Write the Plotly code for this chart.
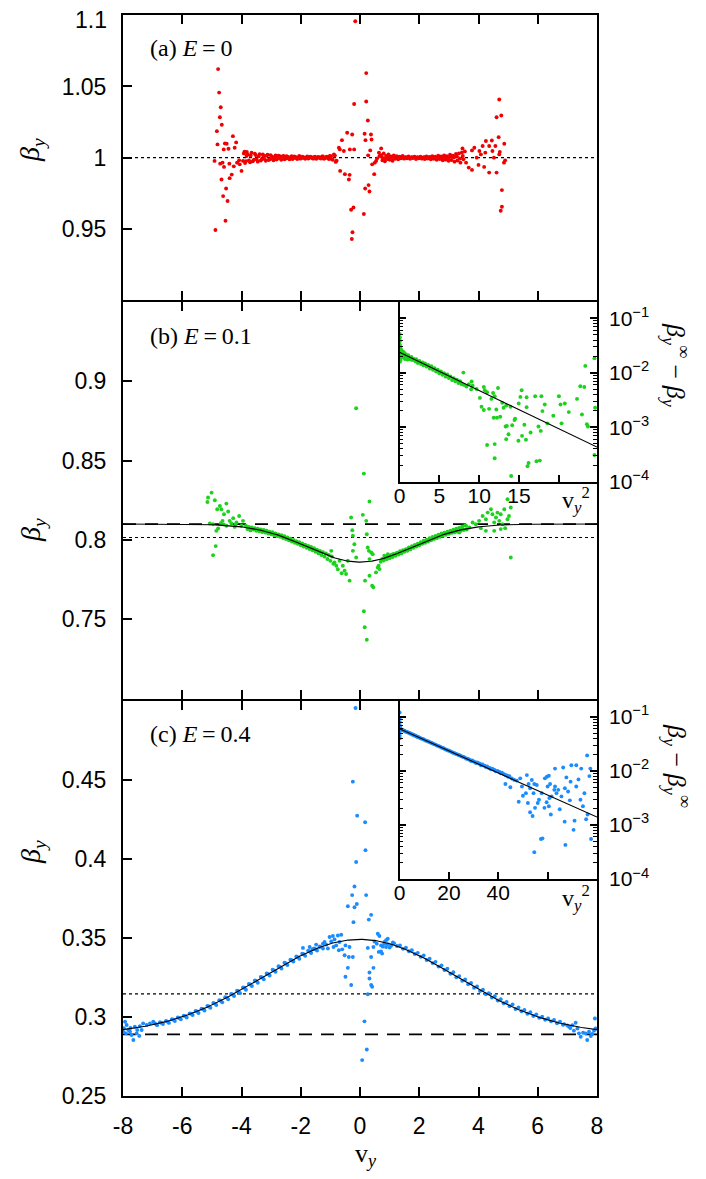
import numpy as np
import plotly.graph_objects as go

W, H = 706, 1179
PAGE_OFFSET = 8  # default body margin of the html page
SERIF = "Liberation Serif, Times New Roman, serif"
SANS = "Liberation Sans, Arial, Helvetica, sans-serif"
RED, GREEN, BLUE = "#f00000", "#1cd21c", "#1a8cff"

# reference levels and fit parameters: beta = inf -/+ amp * exp(-rate * v^2)
A_DOT = 1.0
B_DOT, B_INF, B_AMP, B_RATE = 0.8015, 0.810, 0.024, 0.162
C_DOT, C_INF, C_AMP, C_RATE = 0.3145, 0.289, 0.060, 0.047

X_TICKS = [-8, -6, -4, -2, 0, 2, 4, 6, 8]
X_TICK_TEXT = ["-8", "-6", "-4", "-2", "0", "2", "4", "6", "8"]

# ---- panel (a), E = 0 : (v_y, beta_y)
A_CLUSTERS = [
    (-4.79, 1.0622), (-4.755, 1.0457), (-4.70, 1.0354), (-4.73, 1.0284), (-4.665, 1.0231),
    (-4.83, 1.0186), (-4.81, 1.0093), (-4.88, 0.9492), (-4.54, 0.9557), (-4.47, 0.9695),
    (-4.62, 0.9730), (-4.52, 0.9783), (-4.675, 0.9846), (-4.40, 0.9856), (-4.33, 0.9881),
    (-4.26, 0.9939), (-4.60, 1.0058), (-4.44, 1.0063), (-4.29, 1.0151), (-4.18, 1.0107),
    (-4.50, 1.0098), (-4.23, 1.0070), (-4.56, 1.0100), (-4.91, 0.9977), (-4.72, 0.9958),
    (-4.64, 0.9965), (-4.41, 0.9958), (-4.59, 0.9935), (-4.15, 0.9965), (-4.06, 0.9953),
    (-4.00, 0.9907), (-3.95, 0.9977), (-4.08, 0.9981), (-3.90, 1.0042), (-3.83, 1.0012),
    (-0.713, 1.0070), (-0.61, 1.0123), (-0.68, 1.0058), (-0.545, 1.0047), (-0.433, 1.0175),
    (-0.264, 1.0163), (-0.197, 1.0377), (-0.343, 1.0058), (-0.197, 1.0058), (-0.51, 0.9884),
    (-0.67, 0.9907), (-0.35, 0.9879), (-0.375, 0.9846), (-0.30, 0.9634), (-0.22, 0.9650),
    (-0.253, 0.9476), (-0.276, 0.9429), (-0.16, 1.0958), (0.21, 1.0594), (0.21, 1.0394),
    (0.265, 1.0261), (0.155, 1.0168), (0.37, 1.0163), (0.185, 1.0123), (0.39, 1.0128),
    (0.345, 1.0051), (0.275, 1.0016), (0.13, 0.9604), (0.175, 0.9783), (0.29, 0.9807),
    (0.32, 0.9762), (0.48, 0.9884), (0.41, 0.9953), (0.50, 0.9965), (0.545, 0.9977),
    (0.58, 0.9995), (0.66, 1.0012), (0.715, 1.0065), (0.64, 1.0035),
    (4.70, 1.0408), (4.61, 1.0284), (4.77, 1.0296), (4.68, 1.0144), (4.45, 1.0121),
    (4.57, 1.0082), (4.87, 1.0098), (4.36, 1.0082), (4.25, 1.0117), (4.14, 1.0082),
    (4.03, 1.0047), (3.86, 1.0070), (3.78, 1.0051), (3.94, 1.0000), (4.08, 1.0023),
    (4.23, 1.0035), (4.47, 1.0047), (4.70, 1.0023), (4.52, 1.0000), (4.61, 0.9895),
    (4.36, 0.9895), (4.19, 0.9935), (4.00, 0.9949), (3.78, 0.9914), (3.67, 0.9930),
    (4.86, 0.9965), (4.79, 0.9772), (4.79, 0.9655), (4.75, 0.9627), (4.72, 1.0040),
    (4.90, 0.9981), (3.46, 1.0065), (3.58, 0.9965),
]
A_BAND = [
    (-3.92, 1.0030), (-3.85, 0.9975), (-3.79, 1.0022), (-3.71, 0.9968), (-3.66, 1.0035),
    (-3.58, 0.9985), (-3.52, 1.0018), (-3.45, 0.9972), (-3.39, 1.0025), (-3.31, 0.9990),
    (-3.26, 1.0012), (-3.18, 0.9978), (-3.12, 1.0020), (-3.05, 0.9988), (-2.98, 1.0008),
    (-2.92, 0.9982), (-2.85, 1.0015), (-2.79, 0.9992), (-2.71, 1.0010), (-2.66, 0.9985),
    (-2.58, 1.0012), (-2.51, 0.9994), (-2.45, 1.0006), (-2.38, 0.9988), (-2.31, 1.0010),
    (-2.25, 0.9995), (-2.18, 1.0005), (-2.12, 0.9990), (-2.05, 1.0012), (-1.98, 0.9996),
    (-1.91, 1.0004), (-1.85, 0.9992), (-1.78, 1.0008), (-1.72, 0.9997), (-1.65, 1.0005),
    (-1.58, 0.9993), (-1.52, 1.0007), (-1.45, 0.9996), (-1.38, 1.0004), (-1.32, 0.9994),
    (-1.25, 1.0008), (-1.18, 0.9995), (-1.12, 1.0006), (-1.05, 0.9990), (-0.98, 1.0010),
    (-0.92, 0.9985), (-0.85, 1.0015), (-0.79, 0.9978),
    (-3.88, 0.9962), (-3.82, 1.0040), (-3.75, 0.9980), (-3.69, 1.0015), (-3.62, 0.9975),
    (-3.55, 1.0028), (-3.49, 0.9988), (-3.42, 1.0010), (-3.35, 0.9980), (-3.28, 1.0022),
    (-3.22, 0.9990), (-3.15, 1.0014), (-3.08, 0.9983), (-3.02, 1.0018), (-2.95, 0.9992),
    (-2.88, 1.0005), (-2.82, 0.9987), (-2.75, 1.0014), (-2.68, 0.9996), (-2.62, 1.0008),
    (-2.55, 0.9989), (-2.48, 1.0011), (-2.42, 0.9996), (-2.35, 1.0004), (-2.28, 0.9991),
    (-2.22, 1.0009), (-2.15, 0.9997), (-2.08, 1.0003), (-2.02, 0.9993), (-1.95, 1.0006),
    (-1.88, 0.9998), (-1.82, 1.0002), (-1.75, 0.9994), (-1.68, 1.0006), (-1.62, 0.9998),
    (-1.55, 1.0003), (-1.48, 0.9992), (-1.42, 1.0005), (-1.35, 0.9997), (-1.28, 1.0009),
    (-1.22, 0.9992), (-1.15, 1.0004), (-1.08, 0.9996), (-1.02, 1.0012), (-0.95, 0.9988),
    (-0.88, 1.0022), (-0.82, 0.9970),
    (0.72, 1.0018), (0.76, 0.9982), (0.80, 1.0030), (0.84, 0.9975), (0.88, 1.0012),
    (0.92, 0.9990), (0.96, 1.0022), (1.00, 0.9985), (1.05, 1.0008), (1.10, 0.9978),
    (1.14, 1.0015), (1.19, 0.9992), (1.24, 1.0010), (1.29, 0.9988), (1.34, 1.0006),
    (1.39, 0.9995), (1.44, 1.0012), (1.49, 0.9993), (1.54, 1.0004), (1.59, 0.9996),
    (1.64, 1.0008), (1.69, 0.9992), (1.74, 1.0003), (1.79, 0.9997), (1.84, 1.0006),
    (1.89, 0.9991), (1.94, 1.0004), (1.99, 0.9996), (2.04, 1.0007), (2.09, 0.9993),
    (2.14, 1.0002), (2.19, 0.9990), (2.24, 1.0009), (2.29, 0.9994), (2.34, 1.0005),
    (2.39, 0.9988), (2.44, 1.0011), (2.49, 0.9992), (2.54, 1.0006), (2.59, 0.9985),
    (2.64, 1.0013), (2.69, 0.9990), (2.74, 1.0008), (2.79, 0.9982), (2.84, 1.0016),
    (2.89, 0.9986), (2.94, 1.0010), (2.99, 0.9978), (3.04, 1.0020), (3.09, 0.9984),
    (3.14, 1.0014), (3.19, 0.9972), (3.24, 1.0026), (3.29, 0.9980), (3.34, 1.0030),
    (3.39, 0.9965), (3.44, 1.0036), (3.49, 0.9988), (3.54, 1.0044),
    (0.74, 1.0005), (0.82, 0.9992), (0.90, 1.0004), (0.98, 0.9998), (1.07, 1.0002),
    (1.17, 0.9999), (1.27, 1.0003), (1.37, 0.9998), (1.47, 1.0001), (1.57, 1.0002),
    (1.67, 0.9999), (1.77, 1.0001), (1.87, 1.0002), (1.97, 0.9999), (2.07, 1.0001),
    (2.17, 1.0003), (2.27, 0.9998), (2.37, 1.0002), (2.47, 1.0000), (2.57, 0.9997),
    (2.67, 1.0003), (2.77, 0.9999), (2.87, 1.0004), (2.97, 0.9996), (3.07, 1.0006),
    (3.17, 1.0002), (3.27, 1.0008), (3.37, 0.9994), (3.47, 1.0012),
]

# ---- panel (b), E = 0.1
B_CLUSTERS = [
    (-5.01, 0.8298), (-5.13, 0.8267), (-5.15, 0.8239), (-4.90, 0.8250), (-4.82, 0.8193),
    (-4.73, 0.8214), (-4.68, 0.8193), (-4.51, 0.8229), (-4.45, 0.8179), (-4.59, 0.8162),
    (-4.28, 0.8137), (-4.08, 0.8151), (-4.64, 0.8120), (-4.96, 0.8099), (-5.07, 0.8103),
    (-4.79, 0.8072), (-4.85, 0.8057), (-4.87, 0.7961), (-4.96, 0.7904), (-4.40, 0.8120),
    (-4.17, 0.8110), (-3.95, 0.8120), (-4.00, 0.8089), (-4.23, 0.8082), (-4.51, 0.8089),
    (-4.34, 0.8103), (-4.70, 0.8105), (-4.60, 0.8098), (-4.20, 0.8096),
    (-0.97, 0.7931), (-0.86, 0.7858), (-0.80, 0.7837), (-0.69, 0.7869), (-0.58, 0.7837),
    (-0.52, 0.7806), (-0.47, 0.7785), (-0.35, 0.7743), (-0.41, 0.7869), (-0.30, 0.8141),
    (-0.26, 0.8061), (-0.24, 0.8026), (-0.19, 0.7973), (-0.24, 0.7931), (-0.13, 0.7889),
    (-0.13, 0.8830), (0.13, 0.8418), (0.32, 0.8242), (0.095, 0.8158), (0.21, 0.8120),
    (0.23, 0.8036), (0.26, 0.7952), (0.30, 0.7931), (0.38, 0.7921), (0.43, 0.7910),
    (0.32, 0.7879), (0.60, 0.7826), (0.66, 0.7816), (0.63, 0.7837), (0.54, 0.7795),
    (0.32, 0.7774), (0.17, 0.7743), (0.41, 0.7711), (0.45, 0.7701), (0.13, 0.7550),
    (0.16, 0.7449), (0.23, 0.7370), (0.77, 0.7879), (0.88, 0.7889), (1.00, 0.7900),
    (1.11, 0.7910), (0.94, 0.7910), (0.82, 0.7900), (-0.75, 0.7815), (-0.62, 0.7790),
    (5.09, 0.7889), (5.03, 0.8151), (4.98, 0.8130), (4.87, 0.8193), (5.09, 0.8204),
    (4.98, 0.8256), (4.75, 0.8162), (4.64, 0.8172), (4.59, 0.8141), (4.47, 0.8162),
    (4.42, 0.8193), (4.31, 0.8172), (4.25, 0.8130), (4.14, 0.8151), (4.53, 0.8110),
    (4.70, 0.8120), (4.81, 0.8099), (4.90, 0.8074), (4.75, 0.8068), (4.02, 0.8120),
    (3.91, 0.8099), (3.80, 0.8110), (3.69, 0.8078), (3.58, 0.8089), (3.46, 0.8068),
    (3.35, 0.8047), (3.24, 0.8057), (4.25, 0.8057), (4.08, 0.8074), (4.53, 0.8057),
]
B_BAND = [
    (-3.85, 0.8090), (-3.80, 0.8068), (-3.75, 0.8082), (-3.70, 0.8060), (-3.65, 0.8078),
    (-3.60, 0.8066), (-3.55, 0.8074), (-3.50, 0.8058), (-3.45, 0.8070), (-3.40, 0.8055),
    (-3.35, 0.8066), (-3.30, 0.8050), (-3.25, 0.8062), (-3.20, 0.8046), (-3.15, 0.8058),
    (-3.10, 0.8040), (-3.05, 0.8052), (-3.00, 0.8036), (-2.95, 0.8048), (-2.90, 0.8030),
    (-2.85, 0.8040), (-2.80, 0.8025), (-2.75, 0.8035), (-2.70, 0.8020), (-2.65, 0.8030),
    (-2.60, 0.8012), (-2.55, 0.8024), (-2.50, 0.8005), (-2.45, 0.8015), (-2.40, 0.7998),
    (-2.35, 0.8008), (-2.30, 0.7990), (-2.25, 0.8000), (-2.20, 0.7982), (-2.15, 0.7992),
    (-2.10, 0.7975), (-2.05, 0.7986), (-2.00, 0.7966), (-1.95, 0.7978), (-1.90, 0.7958),
    (-1.85, 0.7970), (-1.80, 0.7950), (-1.75, 0.7962), (-1.70, 0.7942), (-1.65, 0.7955),
    (-1.60, 0.7935), (-1.55, 0.7948), (-1.50, 0.7925), (-1.45, 0.7938), (-1.40, 0.7915),
    (-1.35, 0.7930), (-1.30, 0.7905), (-1.25, 0.7922), (-1.20, 0.7895), (-1.15, 0.7915),
    (-1.10, 0.7880), (-1.05, 0.7905), (-1.00, 0.7868), (-0.95, 0.7895), (-0.90, 0.7850),
    (0.70, 0.7862), (0.75, 0.7880), (0.80, 0.7870), (0.85, 0.7892), (0.90, 0.7878),
    (0.95, 0.7898), (1.00, 0.7885), (1.05, 0.7905), (1.10, 0.7892), (1.15, 0.7912),
    (1.20, 0.7900), (1.25, 0.7920), (1.30, 0.7908), (1.35, 0.7928), (1.40, 0.7915),
    (1.45, 0.7935), (1.50, 0.7925), (1.55, 0.7942), (1.60, 0.7932), (1.65, 0.7952),
    (1.70, 0.7940), (1.75, 0.7960), (1.80, 0.7950), (1.85, 0.7968), (1.90, 0.7958),
    (1.95, 0.7976), (2.00, 0.7966), (2.05, 0.7985), (2.10, 0.7975), (2.15, 0.7995),
    (2.20, 0.7982), (2.25, 0.8002), (2.30, 0.7990), (2.35, 0.8010), (2.40, 0.7998),
    (2.45, 0.8018), (2.50, 0.8005), (2.55, 0.8025), (2.60, 0.8012), (2.65, 0.8032),
    (2.70, 0.8020), (2.75, 0.8040), (2.80, 0.8026), (2.85, 0.8046), (2.90, 0.8032),
    (2.95, 0.8052), (3.00, 0.8038), (3.05, 0.8058), (3.10, 0.8044), (3.15, 0.8064),
    (3.20, 0.8048), (3.25, 0.8070), (3.30, 0.8052), (3.35, 0.8076), (3.40, 0.8058),
    (3.45, 0.8085), (3.50, 0.8062), (3.55, 0.8092), (3.60, 0.8066),
]
# inset (b): (v_y^2, beta_inf - beta_y)
IB_PTS = [
    (0.02, 0.052), (0.04, 0.045), (0.03, 0.038), (0.06, 0.016), (0.05, 0.019),
    (0.02, 0.040), (0.03, 0.033), (0.05, 0.029), (0.04, 0.026), (0.06, 0.022),
    (0.08, 0.019), (0.10, 0.017), (0.12, 0.030), (0.15, 0.024), (0.18, 0.021),
    (0.20, 0.027), (0.25, 0.023), (0.30, 0.020), (0.35, 0.025), (0.40, 0.022),
    (0.50, 0.019), (0.55, 0.024), (0.60, 0.021), (0.70, 0.018), (0.80, 0.022),
    (0.90, 0.020), (1.00, 0.0175), (1.10, 0.021), (1.20, 0.019), (1.35, 0.0178),
    (1.50, 0.0195), (1.60, 0.0172), (1.80, 0.0180), (2.00, 0.0162), (2.10, 0.0178),
    (2.30, 0.0152), (2.50, 0.0165), (2.70, 0.0145), (2.90, 0.0155), (3.00, 0.0138),
    (3.20, 0.0148), (3.40, 0.0130), (3.60, 0.0140), (3.80, 0.0120), (4.00, 0.0132),
    (4.20, 0.0114), (4.40, 0.0122), (4.60, 0.0106), (4.80, 0.0114), (5.00, 0.0098),
    (5.20, 0.0106), (5.40, 0.0092), (5.60, 0.0098), (5.80, 0.0085), (6.00, 0.0093),
    (6.20, 0.0080), (6.40, 0.0086), (6.60, 0.0074), (6.80, 0.0080), (7.00, 0.0070),
    (7.20, 0.0075), (7.40, 0.0065), (7.60, 0.0070), (7.80, 0.0062), (8.02, 0.0101),
    (8.10, 0.0060), (8.40, 0.0056), (8.70, 0.0062), (9.00, 0.0050),
    (9.06, 0.00693), (9.18, 0.00581), (9.68, 0.00505), (10.59, 0.00548), (10.71, 0.00478),
    (11.0, 0.00439), (10.09, 0.00346), (10.30, 0.00238), (10.59, 0.00207), (11.25, 0.00218),
    (11.54, 0.00332), (11.95, 0.00372), (11.75, 0.00427), (12.37, 0.00526), (12.16, 0.00212),
    (11.83, 0.00150), (12.24, 0.00150), (12.65, 0.00156), (12.90, 0.00281), (13.07, 0.00228),
    (13.40, 0.00251), (13.94, 0.00238), (13.32, 0.00103), (13.48, 0.00106), (13.69, 0.000746),
    (13.40, 0.000605), (14.52, 0.00144), (14.44, 0.00136), (14.15, 0.00109), (14.97, 0.00273),
    (15.18, 0.00361), (15.34, 0.00478), (15.96, 0.00234), (15.96, 0.00356), (15.68, 0.00111),
    (15.39, 0.000695), (14.93, 0.000565), (15.88, 0.000589), (16.46, 0.000800), (17.04, 0.00372),
    (17.82, 0.00372), (17.95, 0.00198), (18.24, 0.00262), (17.45, 0.00103), (17.74, 0.000857),
    (18.57, 0.00118), (19.31, 0.00163), (20.02, 0.00372), (20.22, 0.00262), (20.76, 0.00273),
    (21.26, 0.00190), (20.35, 0.00118), (22.29, 0.00332), (22.70, 0.00565), (23.20, 0.00548),
    (22.91, 0.00172), (23.33, 0.0134), (23.53, 0.00114), (23.66, 0.00103), (11.0, 0.000471),
    (11.95, 0.000491), (11.95, 0.000269), (14.02, 0.000127), (16.21, 0.000221), (16.08, 0.000193),
    (17.20, 0.000238), (17.62, 0.000244), (24.56, 0.00228), (24.48, 0.000310), (24.48, 0.0185),
]

# ---- panel (c), E = 0.4
C_CLUSTERS = [
    (-7.93, 0.2969), (-7.877, 0.2949), (-7.97, 0.2928), (-7.82, 0.2917), (-7.90, 0.2896),
    (-7.765, 0.2907), (-7.65, 0.2854), (-7.71, 0.2886), (-7.54, 0.2896), (-7.45, 0.2880),
    (-7.60, 0.2938), (-7.43, 0.2942), (-7.32, 0.2959), (-7.52, 0.2917), (-7.37, 0.2917),
    (-7.20, 0.2949), (-7.09, 0.2959), (-6.98, 0.2969), (-7.75, 0.2930), (-7.98, 0.2905),
    (-0.152, 0.4953), (-0.242, 0.4487), (-0.096, 0.4272), (0.173, 0.4230), (0.185, 0.4054),
    (-0.13, 0.3979), (-0.186, 0.3824), (-0.265, 0.3770), (0.207, 0.3770), (-0.41, 0.3699),
    (-0.186, 0.3693), (-0.108, 0.3714), (0.376, 0.3645), (0.297, 0.3615), (-0.22, 0.3599),
    (-0.49, 0.3452), (-0.354, 0.3442), (-0.52, 0.3390), (-0.377, 0.3379), (-0.242, 0.3379),
    (-0.41, 0.3310), (-0.49, 0.3254), (-0.298, 0.3202), (0.263, 0.3436), (0.454, 0.3442),
    (0.376, 0.3379), (0.454, 0.3310), (0.32, 0.3281), (0.32, 0.3243), (0.376, 0.3202),
    (0.41, 0.3191), (0.263, 0.3143), (0.151, 0.2972), (0.23, 0.2794), (0.072, 0.2727),
    (0.60, 0.3526), (0.656, 0.3511), (0.567, 0.3463), (0.712, 0.3452), (0.825, 0.3473),
    (0.937, 0.3494), (0.88, 0.3442), (0.634, 0.3411), (0.746, 0.3400), (0.488, 0.3477),
    (-1.926, 0.3436), (-1.70, 0.3442), (-1.48, 0.3457), (-1.365, 0.3442), (-1.196, 0.3473),
    (-1.14, 0.3457), (-1.028, 0.3505), (-0.972, 0.3477), (-0.916, 0.3511), (-0.86, 0.3490),
    (-0.804, 0.3452), (-0.747, 0.3515), (-0.691, 0.3473), (-0.635, 0.3519), (-0.60, 0.3427),
    (-0.714, 0.3421), (-0.893, 0.3442), (-1.084, 0.3432), (-1.25, 0.3462), (-1.60, 0.3428),
    (0.71, 0.3414), (0.77, 0.3444), (0.88, 0.3485), (0.82, 0.3464), (0.94, 0.3460),
    (1.05, 0.3450), (1.11, 0.3471), (1.00, 0.3438),
    (7.67, 0.2854), (7.45, 0.2875), (7.39, 0.2896), (7.53, 0.2900), (7.73, 0.2906),
    (7.84, 0.2892), (7.93, 0.2990), (7.95, 0.2927), (7.90, 0.2913), (7.79, 0.2879),
    (7.62, 0.2896), (7.28, 0.2963), (7.17, 0.2948), (7.06, 0.2938), (6.89, 0.2954),
    (7.22, 0.2913), (7.34, 0.2927), (7.00, 0.2946), (7.10, 0.2930),
]
C_BAND = [
    (-6.95, 0.2962), (-6.85, 0.2948), (-6.75, 0.2966), (-6.65, 0.2955), (-6.55, 0.2975),
    (-6.45, 0.2962), (-6.35, 0.2985), (-6.25, 0.2974), (-6.15, 0.2996), (-6.05, 0.2985),
    (-5.95, 0.3008), (-5.85, 0.2996), (-5.75, 0.3022), (-5.65, 0.3012), (-5.55, 0.3038),
    (-5.45, 0.3025), (-5.35, 0.3052), (-5.25, 0.3040), (-5.15, 0.3070), (-5.05, 0.3058),
    (-4.95, 0.3088), (-4.85, 0.3075), (-4.75, 0.3106), (-4.65, 0.3092), (-4.55, 0.3125),
    (-4.45, 0.3112), (-4.35, 0.3145), (-4.25, 0.3132), (-4.15, 0.3165), (-4.05, 0.3150),
    (-3.95, 0.3186), (-3.85, 0.3172), (-3.75, 0.3208), (-3.65, 0.3195), (-3.55, 0.3230),
    (-3.45, 0.3216), (-3.35, 0.3252), (-3.25, 0.3238), (-3.15, 0.3275), (-3.05, 0.3262),
    (-2.95, 0.3298), (-2.85, 0.3285), (-2.75, 0.3320), (-2.65, 0.3306), (-2.55, 0.3342),
    (-2.45, 0.3328), (-2.35, 0.3362), (-2.25, 0.3350), (-2.15, 0.3382), (-2.05, 0.3368),
    (-1.95, 0.3400), (-1.85, 0.3386), (-1.75, 0.3418), (-1.65, 0.3404), (-1.55, 0.3432),
    (-1.45, 0.3420), (-1.35, 0.3446), (-1.25, 0.3432),
    (-6.90, 0.2956), (-6.70, 0.2962), (-6.50, 0.2970), (-6.30, 0.2982), (-6.10, 0.2993),
    (-5.90, 0.3005), (-5.70, 0.3020), (-5.50, 0.3034), (-5.30, 0.3050), (-5.10, 0.3066),
    (-4.90, 0.3084), (-4.70, 0.3102), (-4.50, 0.3122), (-4.30, 0.3142), (-4.10, 0.3162),
    (-3.90, 0.3184), (-3.70, 0.3205), (-3.50, 0.3227), (-3.30, 0.3250), (-3.10, 0.3272),
    (-2.90, 0.3294), (-2.70, 0.3316), (-2.50, 0.3338), (-2.30, 0.3358), (-2.10, 0.3378),
    (-1.90, 0.3396), (-1.70, 0.3413), (-1.50, 0.3428),
    (1.15, 0.3465), (1.25, 0.3448), (1.35, 0.3452), (1.45, 0.3430), (1.55, 0.3438),
    (1.65, 0.3415), (1.75, 0.3422), (1.85, 0.3398), (1.95, 0.3405), (2.05, 0.3380),
    (2.15, 0.3388), (2.25, 0.3360), (2.35, 0.3368), (2.45, 0.3340), (2.55, 0.3348),
    (2.65, 0.3318), (2.75, 0.3326), (2.85, 0.3296), (2.95, 0.3304), (3.05, 0.3273),
    (3.15, 0.3282), (3.25, 0.3250), (3.35, 0.3258), (3.45, 0.3228), (3.55, 0.3236),
    (3.65, 0.3206), (3.75, 0.3214), (3.85, 0.3184), (3.95, 0.3192), (4.05, 0.3163),
    (4.15, 0.3172), (4.25, 0.3143), (4.35, 0.3150), (4.45, 0.3122), (4.55, 0.3131),
    (4.65, 0.3104), (4.75, 0.3112), (4.85, 0.3086), (4.95, 0.3094), (5.05, 0.3068),
    (5.15, 0.3078), (5.25, 0.3050), (5.35, 0.3060), (5.45, 0.3036), (5.55, 0.3044),
    (5.65, 0.3020), (5.75, 0.3030), (5.85, 0.3006), (5.95, 0.3016), (6.05, 0.2994),
    (6.15, 0.3002), (6.25, 0.2982), (6.35, 0.2990), (6.45, 0.2972), (6.55, 0.2980),
    (6.65, 0.2960), (6.75, 0.2970), (6.85, 0.2950),
]
# inset (c): (v_y^2, beta_y - beta_inf)
IC_PTS = [
    (0.05, 0.12), (0.08, 0.095), (0.10, 0.08), (0.12, 0.07), (0.15, 0.065),
    (0.20, 0.058), (0.10, 0.05), (0.05, 0.045), (0.15, 0.04), (0.30, 0.062),
    (0.40, 0.059), (0.60, 0.058), (1.0, 0.0575), (1.5, 0.0560), (2.0, 0.0550),
    (2.5, 0.0535), (3.0, 0.0522), (3.5, 0.0512), (4.0, 0.0500), (4.5, 0.0488),
    (5.0, 0.0478), (5.5, 0.0465), (6.0, 0.0455), (6.5, 0.0445), (7.0, 0.0432),
    (7.5, 0.0423), (8.0, 0.0414), (9.0, 0.0394), (10.0, 0.0377), (11.0, 0.0359),
    (12.0, 0.0343), (13.0, 0.0328), (14.0, 0.0312), (15.0, 0.0298), (16.0, 0.0285),
    (17.0, 0.0270), (18.0, 0.0259), (19.0, 0.0246), (20.0, 0.0236), (21.0, 0.0224),
    (22.0, 0.0215), (23.0, 0.0204), (24.0, 0.0196), (25.0, 0.0186), (26.0, 0.0180),
    (27.0, 0.0168), (28.0, 0.0164), (29.0, 0.0152), (30.0, 0.0150), (31.0, 0.0139),
    (32.0, 0.0138), (33.0, 0.0127), (34.0, 0.0126), (35.0, 0.0118), (36.0, 0.0114),
    (37.0, 0.0107), (38.0, 0.0106), (39.0, 0.0098), (40.0, 0.0097), (41.0, 0.0090),
    (42.0, 0.0088), (43.0, 0.0083), (44.0, 0.0078),
    (0.5, 0.0590), (1.2, 0.0572), (2.2, 0.0538), (3.2, 0.0515), (4.2, 0.0495),
    (5.2, 0.0470), (6.2, 0.0448), (7.2, 0.0427), (8.5, 0.0400), (9.5, 0.0387),
    (10.5, 0.0364), (11.5, 0.0352), (12.5, 0.0334), (13.5, 0.0321), (14.5, 0.0306),
    (15.5, 0.0290), (16.5, 0.0278), (17.5, 0.0266), (18.5, 0.0252), (19.5, 0.0240),
    (20.5, 0.0232), (21.5, 0.0219), (22.5, 0.0210), (23.5, 0.0200), (24.5, 0.0193),
    (25.5, 0.0183), (26.5, 0.0176), (27.5, 0.0167), (28.5, 0.0159), (29.5, 0.0155),
    (30.5, 0.0146), (31.5, 0.0143), (32.5, 0.0136), (33.5, 0.0131), (34.5, 0.0124),
    (35.5, 0.0120), (36.5, 0.0113), (37.5, 0.0110), (38.5, 0.0104), (39.5, 0.0100),
    (40.5, 0.0095), (41.5, 0.0092), (42.5, 0.0086), (43.5, 0.0082), (44.5, 0.0080),
    (45.5, 0.0072), (46.5, 0.0068), (47.5, 0.0066),
    (44.9, 0.00498), (42.9, 0.00573), (48.9, 0.00726), (49.6, 0.00512), (51.6, 0.00834),
    (52.3, 0.00573), (52.9, 0.00478), (53.6, 0.00676), (54.6, 0.00573), (50.0, 0.00346),
    (48.3, 0.00269), (51.2, 0.00387), (54.3, 0.00387), (55.6, 0.00548), (56.0, 0.00255),
    (54.9, 0.00207), (52.9, 0.00172), (53.9, 0.00146), (57.3, 0.000548), (57.9, 0.000565),
    (54.6, 0.000314), (58.9, 0.00726), (59.7, 0.00778), (60.5, 0.00811), (60.0, 0.00512),
    (61.0, 0.00573), (63.0, 0.00512), (63.6, 0.00387), (62.7, 0.00445), (64.3, 0.00445),
    (61.6, 0.00337), (59.6, 0.00262), (60.5, 0.00221), (58.7, 0.00207), (61.3, 0.00156),
    (63.0, 0.0110), (66.3, 0.0115), (65.6, 0.00337), (67.0, 0.00478), (67.6, 0.00757),
    (68.3, 0.00415), (69.3, 0.00631), (69.0, 0.00285), (64.9, 0.00195), (66.9, 0.00115),
    (67.2, 0.000427), (70.9, 0.00120), (70.5, 0.000811), (69.6, 0.0127), (71.6, 0.0127),
    (72.5, 0.00695), (73.6, 0.0110), (71.6, 0.00512), (73.3, 0.00293), (74.9, 0.00387),
    (74.3, 0.00221), (76.0, 0.0193), (76.2, 0.00156), (77.3, 0.0110), (76.9, 0.00800),
    (75.6, 0.00127), (77.6, 0.000548), (60.7, 0.00314), (56.5, 0.00293), (52.0, 0.00255),
    (57.6, 0.00387),
]


def fx(px):
    return (px - PAGE_OFFSET) / W


def fy(py):
    return 1 - (py - PAGE_OFFSET) / H


def dots(pts, color, xa, ya):
    x, y = zip(*pts)
    return go.Scatter(x=x, y=y, mode="markers", xaxis=xa, yaxis=ya, hoverinfo="skip",
                      marker=dict(size=3.9, color=color, line=dict(width=0)))


def level(y, dash, width, xa, ya):
    return go.Scatter(x=[-8, 8], y=[y, y], mode="lines", xaxis=xa, yaxis=ya, hoverinfo="skip",
                      line=dict(color="black", dash=dash, width=width))


def curve(x, y, xa, ya):
    return go.Scatter(x=x, y=y, mode="lines", xaxis=xa, yaxis=ya, hoverinfo="skip",
                      line=dict(color="black", width=1.1))


v = np.linspace(-8, 8, 401)
fit_b = B_INF - B_AMP * np.exp(-B_RATE * v ** 2)
fit_c = C_INF + C_AMP * np.exp(-C_RATE * v ** 2)
v2_b = np.linspace(0, 24.8, 50)
v2_c = np.linspace(0, 80, 50)

fig = go.Figure()
# (a)
fig.add_trace(level(A_DOT, "3px,3px", 1.2, "x", "y"))
fig.add_trace(dots(A_BAND + A_CLUSTERS, RED, "x", "y"))
# (b)
fig.add_trace(level(B_INF, "13px,9px", 1.8, "x2", "y2"))
fig.add_trace(level(B_DOT, "3px,3px", 1.2, "x2", "y2"))
fig.add_trace(dots(B_BAND + B_CLUSTERS, GREEN, "x2", "y2"))
fig.add_trace(curve(v, fit_b, "x2", "y2"))
fig.add_trace(dots(IB_PTS, GREEN, "x4", "y4"))
fig.add_trace(curve(v2_b, B_AMP * np.exp(-B_RATE * v2_b), "x4", "y4"))
# (c)
fig.add_trace(level(C_INF, "13px,9px", 1.8, "x3", "y3"))
fig.add_trace(level(C_DOT, "3px,3px", 1.2, "x3", "y3"))
fig.add_trace(dots(C_BAND + C_CLUSTERS, BLUE, "x3", "y3"))
fig.add_trace(curve(v, fit_c, "x3", "y3"))
fig.add_trace(dots(IC_PTS, BLUE, "x5", "y5"))
fig.add_trace(curve(v2_c, C_AMP * np.exp(-C_RATE * v2_c), "x5", "y5"))

tick_font = dict(family=SANS, size=23, color="black")
frame = dict(showline=True, linewidth=2, linecolor="black", showgrid=False, zeroline=False,
             ticks="inside", tickwidth=1.5, tickcolor="black", tickfont=tick_font,
             automargin=False, ticklabeloverflow="allow")

# frame positions in page pixels (axis lines sit just outside these edges)
LEFT, RIGHT = 123, 597
INSET_LEFT = 399.5


def main_x(anchor, labels):
    return dict(frame, domain=[fx(LEFT), fx(RIGHT)], anchor=anchor, range=[-8, 8],
                tickvals=X_TICKS, ticktext=X_TICK_TEXT, showticklabels=labels,
                ticklen=9, mirror="ticks", ticklabelstandoff=8)


def main_y(anchor, top, bottom, rng, vals, texts):
    return dict(frame, domain=[fy(bottom), fy(top)], anchor=anchor, range=rng,
                tickvals=vals, ticktext=texts,
                ticklen=9, mirror=True, ticklabelstandoff=10)


LOG_MAJOR = [1e-4, 1e-3, 1e-2, 1e-1]
LOG_TEXT = ["10<sup>−4</sup>", "10<sup>−3</sup>", "10<sup>−2</sup>", "10<sup>−1</sup>"]
LOG_MINOR = [m * d for d in (1e-4, 1e-3, 1e-2) for m in range(2, 10)] + [0.2]


def inset_x(anchor, rng, vals, text):
    return dict(frame, domain=[fx(INSET_LEFT), fx(RIGHT)], anchor=anchor, range=rng,
                tickvals=vals, ticktext=text, ticklen=7, linewidth=1.6, mirror=True,
                tickfont=dict(family=SANS, size=21, color="black"), ticklabelstandoff=-6)


def inset_y(anchor, top, bottom):
    return dict(frame, domain=[fy(bottom), fy(top)], anchor=anchor, type="log",
                range=[-4, np.log10(0.2)], side="right", tickvals=LOG_MAJOR, ticktext=LOG_TEXT,
                ticklen=7, linewidth=1.6, mirror="ticks", ticklabelstandoff=6,
                tickfont=dict(family=SANS, size=21, color="black"),
                minor=dict(tickvals=LOG_MINOR, ticks="inside", ticklen=4, tickwidth=1,
                           tickcolor="black"))


def note(text, x, y, size, angle=0, anchor="center", family=SERIF):
    return dict(text=text, x=fx(x), y=fy(y), xref="paper", yref="paper", showarrow=False,
                textangle=angle, xanchor=anchor, yanchor="middle",
                font=dict(family=family, size=size, color="black"))


beta_y = "<i>β</i><sub><i>y</i></sub>"
fig.update_layout(
    width=W, height=H, margin=dict(l=0, r=0, t=0, b=0, autoexpand=False),
    paper_bgcolor="white", plot_bgcolor="white", showlegend=False,
    xaxis=main_x("y", False),
    xaxis2=main_x("y2", False),
    xaxis3=main_x("y3", True),
    # the top label "1.1" sits just below the frame corner, placed as a note
    yaxis=main_y("x", 15.3, 300, [0.9, 1.1], [0.95, 1.0, 1.05, 1.1],
                 ["0.95", "1", "1.05", ""]),
    yaxis2=main_y("x2", 302, 698.5, [0.70, 0.95], [0.75, 0.8, 0.85, 0.9],
                  ["0.75", "0.8", "0.85", "0.9"]),
    yaxis3=main_y("x3", 700.5, 1096, [0.25, 0.5], [0.25, 0.3, 0.35, 0.4, 0.45],
                  ["0.25", "0.3", "0.35", "0.4", "0.45"]),
    xaxis4=inset_x("y4", [0, 24.8], [0, 5, 10, 15, 20], ["0", "5", "10", "15", ""]),
    yaxis4=inset_y("x4", 302, 481.7),
    xaxis5=inset_x("y5", [0, 80], [0, 20, 40, 60], ["0", "20", "40", ""]),
    yaxis5=inset_y("x5", 700.5, 879),
    annotations=[
        note("1.1", 109, 20, 23, anchor="right", family=SANS),
        note("(a) <i>E</i>\u2009=\u20090", 148, 48, 24, anchor="left"),
        note("(b) <i>E</i>\u2009=\u20090.1", 148, 336, 24, anchor="left"),
        note("(c) <i>E</i>\u2009=\u20090.4", 148, 734, 24, anchor="left"),
        note(beta_y, 32, 150, 28, -90),
        note(beta_y, 32, 530, 28, -90),
        note(beta_y, 32, 852, 28, -90),
        note("<i>β</i><sub><i>y</i></sub><sup>∞</sup> − " + beta_y, 676, 365, 26, 90),
        note(beta_y + " − <i>β</i><sub><i>y</i></sub><sup>∞</sup>", 677, 766, 26, 90),
        note("v<sub><i>y</i></sub><sup>2</sup>", 576, 500, 24),
        note("v<sub><i>y</i></sub><sup>2</sup>", 576, 898, 24),
        note("v<sub><i>y</i></sub>", 366, 1155, 26),
    ],
)

fig.write_html("out.html")
